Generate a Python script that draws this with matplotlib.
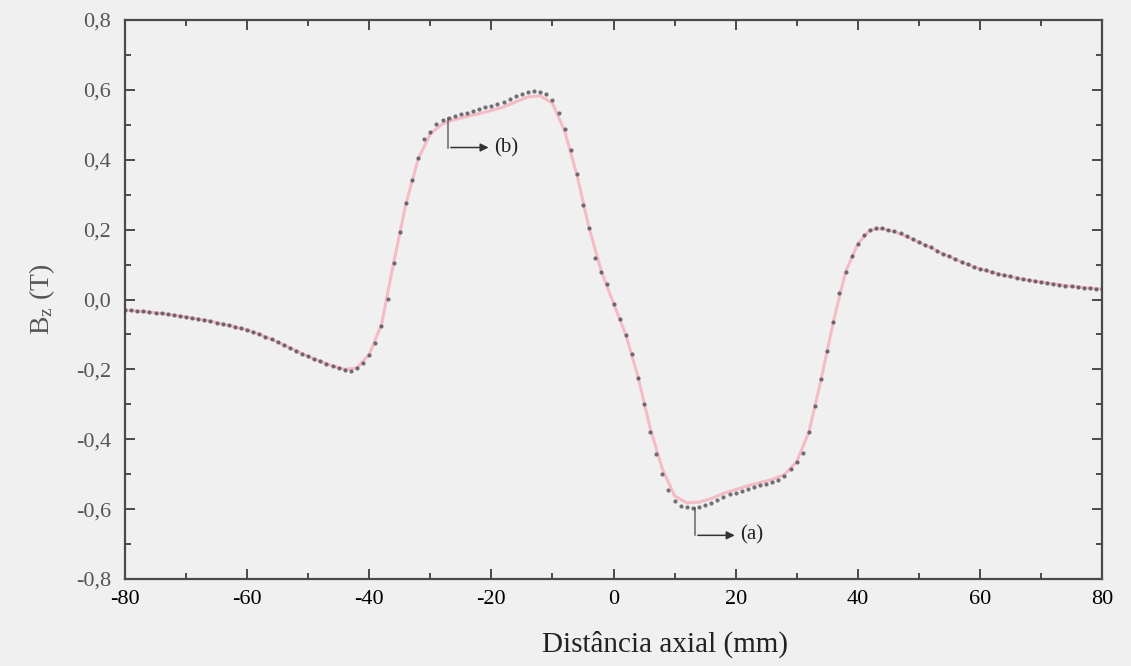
import matplotlib
matplotlib.use("Agg")
import matplotlib.pyplot as plt
import numpy as np

# curve (a): measured points, 1 mm steps
x_a = list(range(-80, 81))
bz_a = [-0.030, -0.031, -0.033, -0.034, -0.036, -0.038, -0.040, -0.042, -0.045, -0.048,
        -0.050, -0.053, -0.056, -0.059, -0.062, -0.066, -0.070, -0.074, -0.078, -0.082,
        -0.087, -0.093, -0.099, -0.106, -0.114, -0.122, -0.130, -0.138, -0.146, -0.155,
        -0.163, -0.170, -0.177, -0.184, -0.190, -0.196, -0.201, -0.204, -0.197, -0.181,
        -0.160, -0.125, -0.075, 0.002, 0.105, 0.192, 0.275, 0.342, 0.406, 0.458,
        0.480, 0.502, 0.513, 0.520, 0.525, 0.530, 0.535, 0.540, 0.545, 0.550,
        0.555, 0.560, 0.566, 0.573, 0.581, 0.589, 0.595, 0.598, 0.595, 0.588,
        0.570, 0.534, 0.487, 0.428, 0.360, 0.270, 0.206, 0.119, 0.080, 0.044,
        -0.013, -0.057, -0.103, -0.157, -0.225, -0.300, -0.378, -0.442, -0.499, -0.544,
        -0.577, -0.591, -0.595, -0.598, -0.594, -0.588, -0.582, -0.573, -0.565, -0.558,
        -0.553, -0.547, -0.542, -0.537, -0.532, -0.527, -0.522, -0.516, -0.505, -0.486,
        -0.466, -0.440, -0.380, -0.305, -0.228, -0.147, -0.063, 0.020, 0.080, 0.124,
        0.160, 0.184, 0.200, 0.206, 0.204, 0.200, 0.195, 0.189, 0.181, 0.173,
        0.165, 0.157, 0.149, 0.140, 0.131, 0.124, 0.116, 0.108, 0.101, 0.094,
        0.088, 0.083, 0.078, 0.073, 0.069, 0.066, 0.062, 0.059, 0.055, 0.052,
        0.050, 0.048, 0.045, 0.042, 0.040, 0.038, 0.036, 0.034, 0.033, 0.031,
        0.030]

# curve (b): simulated line, 2 mm steps
x_b = list(range(-80, 81, 2))
bz_b = [-0.030, -0.033, -0.036, -0.040, -0.045, -0.050, -0.056, -0.062, -0.070, -0.078,
        -0.087, -0.099, -0.114, -0.130, -0.146, -0.163, -0.177, -0.190, -0.200, -0.196,
        -0.157, -0.072, 0.105, 0.273, 0.402, 0.474, 0.503, 0.515, 0.524, 0.532,
        0.541, 0.551, 0.566, 0.580, 0.583, 0.562, 0.482, 0.357, 0.205, 0.081,
        -0.011, -0.100, -0.220, -0.368, -0.485, -0.562, -0.582, -0.580, -0.570, -0.555,
        -0.544, -0.533, -0.524, -0.515, -0.501, -0.464, -0.379, -0.228, -0.064, 0.079,
        0.159, 0.199, 0.203, 0.194, 0.180, 0.164, 0.148, 0.130, 0.115, 0.100,
        0.088, 0.078, 0.069, 0.062, 0.055, 0.050, 0.045, 0.040, 0.036, 0.033,
        0.030]

xticks = [-80, -60, -40, -20, 0, 20, 40, 60, 80]
yticks = [-0.8, -0.6, -0.4, -0.2, 0.0, 0.2, 0.4, 0.6, 0.8]
ytick_labels = ["-0,8", "-0,6", "-0,4", "-0,2", "0,0", "0,2", "0,4", "0,6", "0,8"]

plt.rcParams['font.family'] = ['Liberation Serif', 'DejaVu Serif']
plt.rcParams['mathtext.fontset'] = 'stix'
plt.rcParams['axes.unicode_minus'] = False

bg = '#f0f0f0'
fig = plt.figure(figsize=(11.31, 6.66), dpi=100, facecolor=bg)
ax = fig.add_axes([0.1105, 0.1306, 0.8639, 0.8394], facecolor=bg)

ax.plot(x_b, bz_b, color='#f5bcc6', lw=2.2, zorder=2)
ax.plot(x_a, bz_a, ls='none', marker='o', ms=3.0, color='#45454d', alpha=0.75,
        markeredgewidth=0, zorder=3)

ax.set_xlim(-80, 80)
ax.set_ylim(-0.8, 0.8)
ax.set_xticks(xticks)
ax.set_xticks(range(-70, 80, 20), minor=True)
ax.set_yticks(yticks)
ax.set_yticklabels(ytick_labels)
ax.set_yticks(np.arange(-0.7, 0.8, 0.2), minor=True)

for s in ax.spines.values():
    s.set_color('#4a4a4a')
    s.set_linewidth(1.6)
ax.tick_params(which='both', direction='in', top=True, right=True, color='#4a4a4a', width=1.4)
ax.tick_params(which='major', length=7)
ax.tick_params(which='minor', length=4)
ax.tick_params(axis='x', labelsize=16, pad=8, labelcolor='black')
ax.tick_params(axis='y', labelsize=16, pad=10, labelcolor='#555555')

ax.set_xlabel("Distância axial (mm)", fontsize=21, color='#222222')
ax.xaxis.set_label_coords(0.553, -0.093)
ax.set_ylabel("B$_\\mathregular{z}$ (T)", fontsize=20, labelpad=14, color='#555555')

# elbow arrows
ax.plot([-27.1, -27.1], [0.52, 0.435], color='#666666', lw=1.1)
ax.annotate("", xy=(-20.0, 0.435), xytext=(-27.1, 0.435),
            arrowprops=dict(arrowstyle='-|>', color='#333333', lw=1.1, mutation_scale=12))
ax.text(-19.6, 0.435, "(b)", fontsize=15, va='center', ha='left', color='#222222')

ax.plot([13.35, 13.35], [-0.598, -0.675], color='#666666', lw=1.1)
ax.annotate("", xy=(20.3, -0.675), xytext=(13.35, -0.675),
            arrowprops=dict(arrowstyle='-|>', color='#333333', lw=1.1, mutation_scale=12))
ax.text(20.7, -0.675, "(a)", fontsize=15, va='center', ha='left', color='#222222')

fig.savefig("out.png", dpi=100, facecolor=bg)
